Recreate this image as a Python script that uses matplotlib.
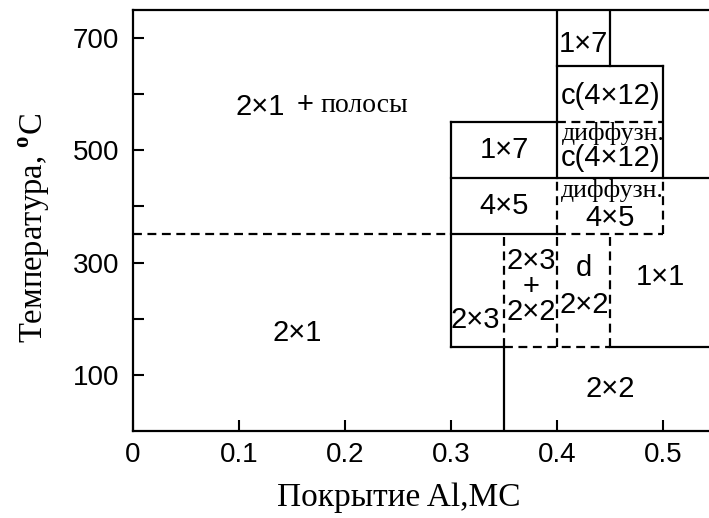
import matplotlib
matplotlib.use('Agg')
import matplotlib.pyplot as plt

plt.rcParams['mathtext.fontset'] = 'custom'
plt.rcParams['mathtext.rm'] = 'Liberation Serif'
plt.rcParams['mathtext.bf'] = 'Liberation Serif:bold'

# phase boundaries: (x0, x1, y0, y1)
solid_lines = [
    (0.30, 0.30, 150, 550),
    (0.30, 0.40, 550, 550),
    (0.30, 0.55, 450, 450),
    (0.30, 0.40, 350, 350),
    (0.30, 0.35, 150, 150),
    (0.45, 0.55, 150, 150),
    (0.35, 0.35, 0, 150),
    (0.40, 0.40, 450, 750),
    (0.45, 0.45, 650, 750),
    (0.40, 0.50, 650, 650),
    (0.50, 0.50, 450, 650),
]
dashed_lines = [
    (0.00, 0.30, 350, 350),
    (0.40, 0.50, 550, 550),
    (0.40, 0.50, 350, 350),
    (0.40, 0.40, 350, 450),
    (0.50, 0.50, 350, 450),
    (0.35, 0.45, 150, 150),
    (0.35, 0.35, 150, 350),
    (0.40, 0.40, 150, 350),
    (0.45, 0.45, 150, 350),
]

# region labels
sans_labels = ['2×1', '2×1', '1×7', '4×5', '2×3', '2×3\n+\n2×2', 'd', '2×2',
               '1×1', '2×2', '1×7', 'c(4×12)', 'c(4×12)', '4×5', '+']
sans_x = [0.12, 0.155, 0.35, 0.35, 0.323, 0.375, 0.425, 0.425,
          0.497, 0.45, 0.425, 0.45, 0.45, 0.45, 0.162]
sans_y = [577, 174, 500, 400, 198, 257, 290, 224,
          274, 75, 690, 597, 486, 379, 580]
serif_labels = ['полосы', 'диффузн.', 'диффузн.']
serif_x = [0.177, 0.453, 0.452]
serif_y = [580, 530, 429]

fig = plt.figure(figsize=(7.09, 5.18), dpi=100)
ax = fig.add_axes([0.1876, 0.168, 0.8124, 0.813])

for x0, x1, y0, y1 in solid_lines:
    ax.plot([x0, x1], [y0, y1], color='black', lw=1.6, solid_capstyle='projecting')
for x0, x1, y0, y1 in dashed_lines:
    ax.plot([x0, x1], [y0, y1], color='black', lw=1.6, ls=(0, (4, 2.5)))

for t, x, y in zip(sans_labels, sans_x, sans_y):
    ax.text(x, y, t, ha='center', va='center', fontsize=21, family='Liberation Sans',
            linespacing=0.88, multialignment='center')
for t, x, y in zip(serif_labels, serif_x, serif_y):
    if t == 'полосы':
        ax.text(x, y, t, ha='left', va='center', fontsize=20, family='Liberation Serif')
    else:
        ax.text(x, y, t, ha='center', va='center', fontsize=18.5, family='Liberation Serif')

ax.set_xlim(0, 0.543)
ax.set_ylim(0, 750)
ax.set_xticks([0, 0.1, 0.2, 0.3, 0.4, 0.5])
ax.set_xticklabels(['0', '0.1', '0.2', '0.3', '0.4', '0.5'])
ax.set_yticks([100, 300, 500, 700])
ax.set_yticks([200, 400, 600], minor=True)
ax.tick_params(which='both', direction='in', length=8, width=1.5, labelsize=20)
ax.tick_params(axis='y', pad=10)
ax.tick_params(axis='x', pad=8)
for lab in ax.get_xticklabels() + ax.get_yticklabels():
    lab.set_family('Liberation Sans')
for side in ['left', 'bottom', 'top']:
    ax.spines[side].set_linewidth(1.6)
ax.spines['right'].set_visible(False)

ax.set_xlabel('Покрытие Al,МС', family='Liberation Serif', fontsize=24)
ax.set_ylabel(r'Температура, $^{\mathbf{o}}$C', family='Liberation Serif', fontsize=23.5)
ax.xaxis.set_label_coords(0.462, -0.122)
ax.yaxis.set_label_coords(-0.14, 0.482)

fig.savefig('out.png', dpi=100)
